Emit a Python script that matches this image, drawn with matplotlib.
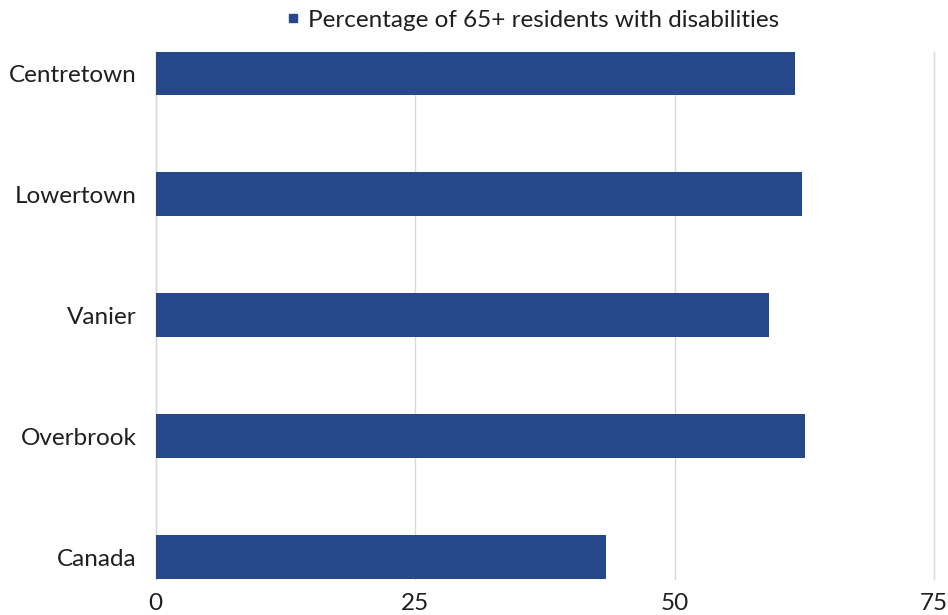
import matplotlib.pyplot as plt
from matplotlib.lines import Line2D

categories = ["Centretown", "Lowertown", "Vanier", "Overbrook", "Canada"]
values = [61.6, 62.3, 59.1, 62.5, 43.4]
x_ticks = [0, 25, 50, 75]
series_label = "Percentage of 65+ residents with disabilities"

bar_color = "#27478B"
text_color = "#1f1f1f"
grid_color = "#d9d9d9"

plt.rcParams["font.family"] = ["Lato", "DejaVu Sans"]

fig = plt.figure(figsize=(9.48, 6.15), dpi=100)
W, H = 948, 615
left, right, top, bottom = 155.7, 934.3, 51.5, 579
ax = fig.add_axes([left / W, 1 - bottom / H, (right - left) / W, (bottom - top) / H])

bar_h = 0.36
ypos = list(range(len(categories)))[::-1]
ax.barh(ypos, values, height=bar_h, color=bar_color, zorder=3)

ax.set_xlim(0, 75)
ax.set_ylim(-bar_h / 2, (len(categories) - 1) + bar_h / 2)
ax.set_xticks(x_ticks)
ax.set_xticklabels([str(t) for t in x_ticks])
ax.set_yticks(ypos)
ax.set_yticklabels(categories)
ax.tick_params(axis="both", length=0, labelsize=17.5, colors=text_color)
ax.tick_params(axis="x", pad=10)
ax.tick_params(axis="y", pad=13.5)

for s in ["top", "right", "bottom"]:
    ax.spines[s].set_visible(False)
ax.spines["left"].set_color(grid_color)
ax.spines["left"].set_linewidth(1)

ax.xaxis.grid(True, color=grid_color, linewidth=1, zorder=0)
ax.set_axisbelow(True)
for gl in ax.get_xgridlines():
    gl.set_clip_on(False)

handle = Line2D([], [], marker="s", linestyle="none", color=bar_color, markersize=6)
fig.legend([handle], [series_label], loc="center", bbox_to_anchor=(532 / W, 1 - 20 / H),
           frameon=False, fontsize=17.5, handletextpad=0.25, labelcolor=text_color,
           handlelength=0.7)

fig.savefig("out.png", dpi=100, facecolor="white")
